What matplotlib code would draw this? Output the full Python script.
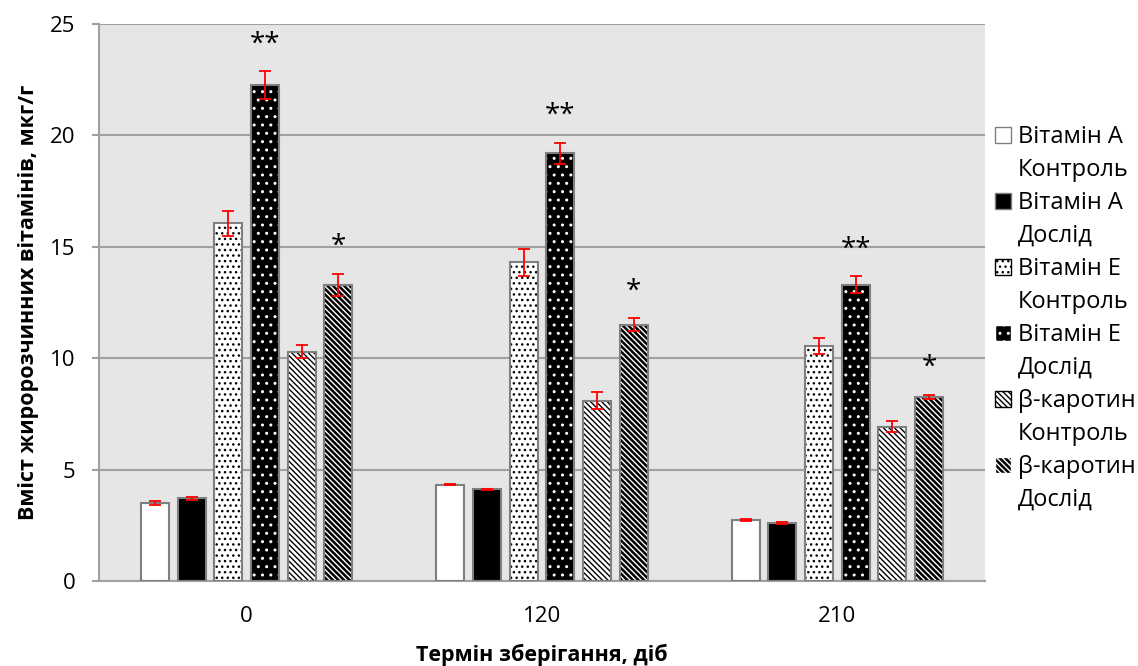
import numpy as np
import matplotlib.pyplot as plt
from matplotlib.patches import Patch

plt.rcParams['font.family'] = ['Open Sans', 'DejaVu Sans']
plt.rcParams['hatch.linewidth'] = 1.0

# Data
days = ['0', '120', '210']
series = ['Вітамін А\nКонтроль', 'Вітамін А\nДослід', 'Вітамін Е\nКонтроль',
          'Вітамін Е\nДослід', 'β-каротин\nКонтроль', 'β-каротин\nДослід']
vit_a_control = [3.5, 4.33, 2.75]
vit_a_exp = [3.71, 4.12, 2.6]
vit_e_control = [16.05, 14.3, 10.55]
vit_e_exp = [22.25, 19.2, 13.3]
beta_control = [10.3, 8.1, 6.92]
beta_exp = [13.3, 11.5, 8.27]
err_a_control = [0.07, 0.03, 0.05]
err_a_exp = [0.08, 0.03, 0.04]
err_e_control = [0.55, 0.6, 0.35]
err_e_exp = [0.63, 0.48, 0.38]
err_beta_control = [0.3, 0.38, 0.25]
err_beta_exp = [0.5, 0.3, 0.1]
stars = [['', '', '', '**', '', '*'],
         ['', '', '', '**', '', '*'],
         ['', '', '', '**', '', '*']]

values = [vit_a_control, vit_a_exp, vit_e_control, vit_e_exp, beta_control, beta_exp]
errors = [err_a_control, err_a_exp, err_e_control, err_e_exp, err_beta_control, err_beta_exp]
# (face, hatch colour, hatch)
styles = [('white', None, ''), ('black', None, ''), ('white', 'black', '...'),
          ('black', 'white', '..'), ('white', 'black', '\\' * 6), ('black', 'white', '\\' * 6)]

fig = plt.figure(figsize=(11.38, 6.66), dpi=100)
ax = fig.add_axes([0.087, 0.1276, 0.7786, 0.8364])
ax.set_facecolor('#e6e6e6')

x = np.arange(len(days))
pitch = 0.1243
width = 0.095
edge = '#7f7f7f'
handles = []
for i, (vals, errs) in enumerate(zip(values, errors)):
    face, hcol, hatch = styles[i]
    pos = x + (i - 2.5) * pitch
    ax.bar(pos, vals, width, color=face, edgecolor=hcol if hatch else face,
           hatch=hatch, linewidth=0, zorder=2)
    ax.bar(pos, vals, width, fill=False, edgecolor=edge, linewidth=1.5, zorder=3)
    ax.errorbar(pos, vals, yerr=errs, fmt='none', ecolor='red', elinewidth=1.3,
                capsize=4.5, capthick=1.3, zorder=4)
    for j in range(len(days)):
        s = stars[j][i]
        if s:
            ax.annotate(s, (pos[j], vals[j] + errs[j]), xytext=(0, 9), textcoords='offset points',
                        ha='center', va='bottom', fontsize=20, zorder=5)
    handles.append(Patch(facecolor=face, edgecolor=hcol if hatch else edge, hatch=hatch))

ax.set_xlim(-0.5, 2.5)
ax.set_ylim(0, 25)
ax.set_yticks([0, 5, 10, 15, 20, 25])
ax.set_xticks(x)
ax.set_xticklabels(days)
ax.yaxis.grid(True, color='#a0a0a0', linewidth=1.5)
ax.set_axisbelow(True)
for side in ['top', 'right']:
    ax.spines[side].set_visible(False)
for side in ['left', 'bottom']:
    ax.spines[side].set_color('#a0a0a0')
    ax.spines[side].set_linewidth(1.5)
ax.tick_params(axis='y', length=5, color='#a0a0a0', width=1.5, labelsize=16, pad=12)
ax.tick_params(axis='x', length=0, labelsize=16, pad=18)
ax.set_ylabel('Вміст жиророзчинних вітамінів, мкг/г', fontsize=15.5, fontweight='bold', labelpad=8)
ax.set_xlabel('Термін зберігання, діб', fontsize=15.5, fontweight='bold', labelpad=12)

# Legend: one handle per series on its first text line
leg_handles, leg_labels = [], []
for h, lab in zip(handles, series):
    first, second = lab.split('\n')
    leg_handles += [h, Patch(facecolor='none', edgecolor='none')]
    leg_labels += [first, second]
leg = fig.legend(leg_handles, leg_labels, loc='upper left', bbox_to_anchor=(0.874, 0.812),
                 frameon=False, fontsize=17, handlelength=0.68, handleheight=0.68,
                 handletextpad=0.3, labelspacing=0.38, borderaxespad=0, borderpad=0)

fig.savefig('out.png', dpi=100)
